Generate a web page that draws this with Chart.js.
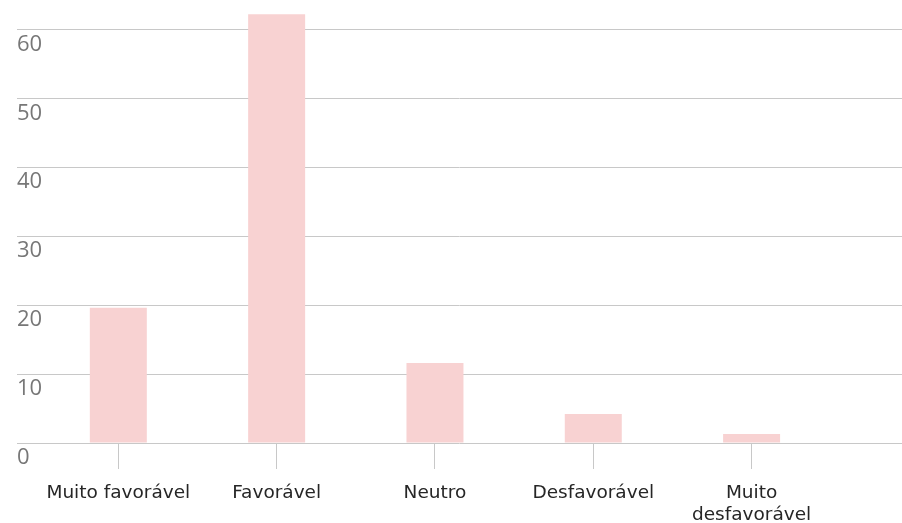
<!DOCTYPE html>
<html>
<head>
<meta charset="utf-8">
<script src="https://cdn.jsdelivr.net/npm/chart.js@4/dist/chart.umd.min.js"></script>
<style>
  html, body { margin: 0; padding: 0; background: #fff; }
  #wrap { width: 902px; height: 523px; }
</style>
</head>
<body>
<div id="wrap"><canvas id="opinionChart"></canvas></div>
<script>
// ---- data ----
const categories = ['Muito favorável', 'Favorável', 'Neutro', 'Desfavorável', ['Muito', 'desfavorável']];
const responses = [19.6, 62.2, 11.6, 4.2, 1.3];
const yTicks = [0, 10, 20, 30, 40, 50, 60];

const GRID = '#c8c8c8';

// bars sit on a numeric x axis so the category slots can be framed freely
const points = categories.map((c, i) => ({ x: i, y: responses[i] }));

new Chart(document.getElementById('opinionChart'), {
    type: 'bar',
    data: {
        datasets: [{
            data: points,
            backgroundColor: '#f8d2d2',
            borderWidth: 0,
            barPercentage: 1,
            categoryPercentage: 0.36
        }]
    },
    options: {
        responsive: true,
        maintainAspectRatio: false,
        animation: false,
        layout: { padding: { left: 17, right: 0, top: 0, bottom: 0 } },
        plugins: { legend: { display: false }, tooltip: { enabled: false } },
        scales: {
            x: {
                type: 'linear',
                min: -0.64,
                max: 4.95,
                offset: false,
                border: { display: false },
                grid: { offset: false, drawOnChartArea: false, drawTicks: true, tickLength: 26, color: GRID },
                ticks: {
                    stepSize: 1,
                    includeBounds: false,
                    autoSkip: false,
                    maxRotation: 0,
                    padding: 13,
                    color: '#262626',
                    font: { family: 'DejaVu Sans', size: 18.5 },
                    callback: v => Number.isInteger(v) ? categories[v] : ''
                },
                afterFit: s => { s.height = 80; s.paddingLeft = 0; s.paddingRight = 0; }
            },
            y: {
                min: 0,
                max: 64.25,
                border: { display: false },
                grid: { drawTicks: false, color: GRID },
                ticks: {
                    stepSize: 10,
                    includeBounds: false,
                    mirror: true,
                    padding: 0,
                    labelOffset: 15,
                    color: '#777',
                    font: { family: 'Open Sans', size: 22 },
                    callback: v => yTicks.includes(v) ? String(v) : ''
                },
                afterFit: s => { s.width = 0; s.paddingTop = 0; s.paddingBottom = 0; }
            }
        }
    }
});
</script>
</body>
</html>
